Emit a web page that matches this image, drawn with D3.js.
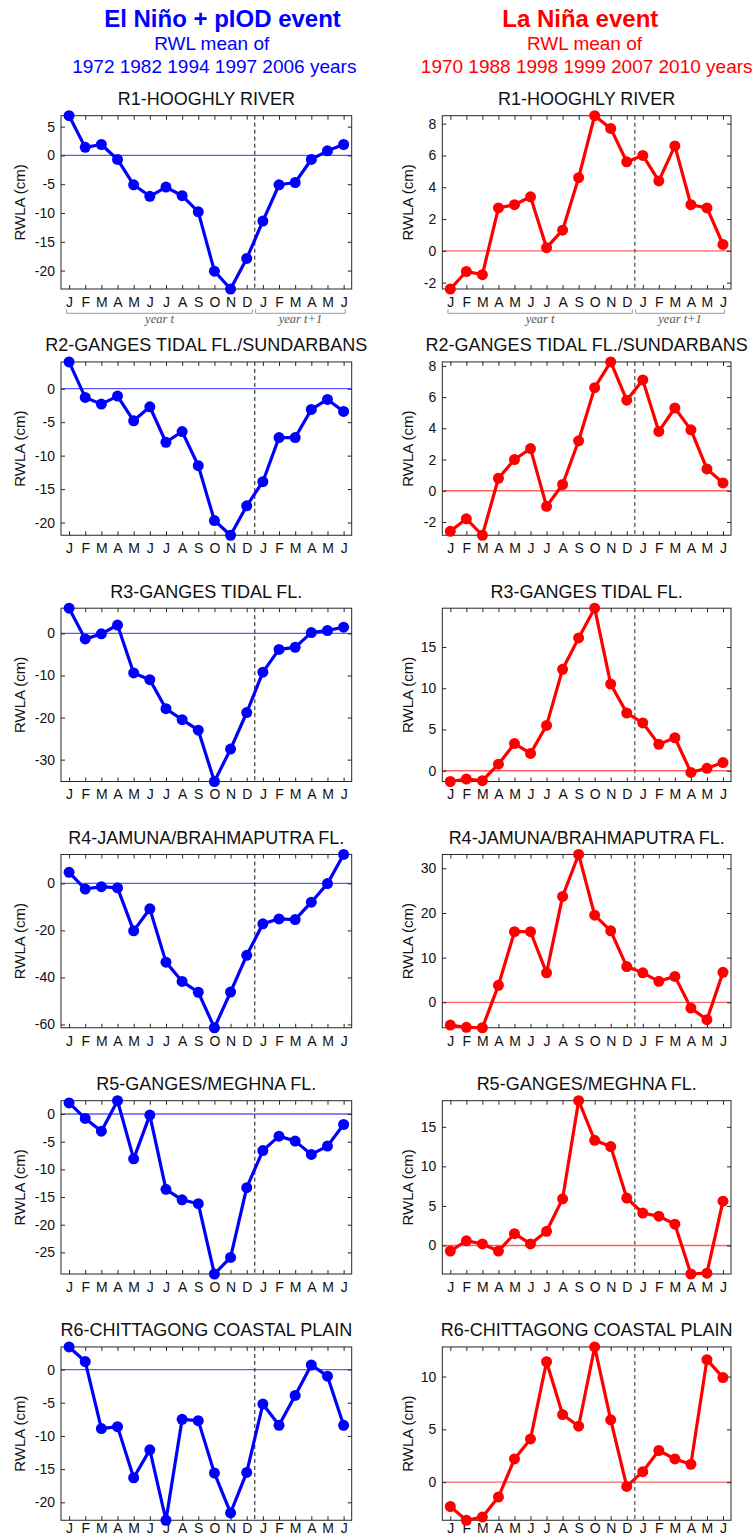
<!DOCTYPE html>
<html>
<head>
<meta charset="utf-8">
<script src="https://cdn.jsdelivr.net/npm/d3@7"></script>
<style>
  body { margin: 0; background: #fff; }
  svg { display: block; font-family: "Liberation Sans", Arial, sans-serif; }
</style>
</head>
<body>
<script>
// Month sequence: January of year t through June of year t+1
const months = ["J","F","M","A","M","J","J","A","S","O","N","D","J","F","M","A","M","J"];
const regions = [
  "R1-HOOGHLY RIVER",
  "R2-GANGES TIDAL FL./SUNDARBANS",
  "R3-GANGES TIDAL FL.",
  "R4-JAMUNA/BRAHMAPUTRA FL.",
  "R5-GANGES/MEGHNA FL.",
  "R6-CHITTAGONG COASTAL PLAIN"
];
const elNinoTitle = "El Niño + pIOD event";
const laNinaTitle = "La Niña event";
const subtitleLead = "RWL mean of";
const elNinoYears = "1972 1982 1994 1997 2006 years";
const laNinaYears = "1970 1988 1998 1999 2007 2010 years";
const yearLabels = ["year t", "year t+1"];
const yLabel = "RWLA (cm)";

// River water level anomalies (cm), El Niño + pIOD composite
const elNinoR1 = [6.9, 1.4, 1.9, -0.7, -5.1, -7.1, -5.5, -7.0, -9.8, -20.1, -23.2, -17.9, -11.4, -5.1, -4.7, -0.7, 0.8, 1.9];
const elNinoR2 = [4.0, -1.3, -2.3, -1.1, -4.8, -2.7, -8.0, -6.4, -11.5, -19.7, -21.9, -17.5, -13.9, -7.3, -7.3, -3.1, -1.6, -3.4];
const elNinoR3 = [6.0, -1.3, -0.1, 2.0, -9.4, -11.0, -17.9, -20.5, -23.0, -35.2, -27.5, -18.8, -9.2, -3.8, -3.3, 0.2, 0.7, 1.5];
const elNinoR4 = [4.7, -2.4, -1.4, -1.9, -20.2, -10.8, -33.5, -41.7, -46.3, -61.4, -46.2, -30.6, -17.2, -15.1, -15.4, -8.0, -0.1, 12.3];
const elNinoR5 = [2.0, -0.8, -3.1, 2.4, -8.1, -0.2, -13.6, -15.5, -16.2, -28.9, -25.9, -13.3, -6.6, -4.0, -4.9, -7.3, -5.8, -1.9];
const elNinoR6 = [3.4, 1.2, -8.9, -8.6, -16.3, -12.1, -22.7, -7.5, -7.7, -15.6, -21.6, -15.5, -5.2, -8.4, -3.9, 0.7, -1.0, -8.4];

// River water level anomalies (cm), La Niña composite
const laNinaR1 = [-2.4, -1.3, -1.5, 2.7, 2.9, 3.4, 0.2, 1.3, 4.6, 8.5, 7.7, 5.6, 6.0, 4.4, 6.6, 2.9, 2.7, 0.4];
const laNinaR2 = [-2.6, -1.8, -2.85, 0.8, 2.0, 2.7, -1.0, 0.4, 3.2, 6.6, 8.25, 5.8, 7.1, 3.8, 5.3, 3.9, 1.4, 0.5];
const laNinaR3 = [-1.3, -1.0, -1.2, 0.8, 3.3, 2.1, 5.5, 12.3, 16.1, 19.7, 10.5, 7.0, 5.8, 3.2, 4.0, -0.2, 0.3, 1.0];
const laNinaR4 = [-5.1, -5.6, -5.7, 3.8, 15.8, 15.8, 6.6, 23.7, 33.1, 19.5, 16.0, 8.0, 6.6, 4.7, 5.8, -1.3, -3.9, 6.7];
const laNinaR5 = [-0.7, 0.6, 0.2, -0.7, 1.5, 0.2, 1.8, 5.9, 18.3, 13.3, 12.5, 6.0, 4.1, 3.7, 2.7, -3.6, -3.5, 5.6];
const laNinaR6 = [-2.3, -3.6, -3.3, -1.4, 2.2, 4.1, 11.4, 6.4, 5.3, 12.8, 5.9, -0.4, 1.0, 3.0, 2.2, 1.7, 11.6, 9.9];

// Y tick values for each region
const elNinoTicks = [
  [-20, -15, -10, -5, 0, 5],
  [-20, -15, -10, -5, 0],
  [-30, -20, -10, 0],
  [-60, -40, -20, 0],
  [-25, -20, -15, -10, -5, 0],
  [-20, -15, -10, -5, 0]
];
const laNinaTicks = [
  [-2, 0, 2, 4, 6, 8],
  [-2, 0, 2, 4, 6, 8],
  [0, 5, 10, 15],
  [0, 10, 20, 30],
  [0, 5, 10, 15],
  [0, 5, 10]
];

const elNinoSeries = [elNinoR1, elNinoR2, elNinoR3, elNinoR4, elNinoR5, elNinoR6];
const laNinaSeries = [laNinaR1, laNinaR2, laNinaR3, laNinaR4, laNinaR5, laNinaR6];

// ---- layout ----
const W = 754, H = 1539;
const panelTop0 = 115.7, panelStep = 246.25, panelH = 173.3;
const columns = [
  { x0: 61, x1: 351.7, series: elNinoSeries, ticks: elNinoTicks,
    color: "#0000ff", zero: "#5a5aff", dash: "#111", dashW: 1,
    ylabX: 20 },
  { x0: 442.3, x1: 731, series: laNinaSeries, ticks: laNinaTicks,
    color: "#ff0000", zero: "#ff6060", dash: "#666", dashW: 1.4,
    ylabX: 408 }
];
const axisColor = "#262626";

const svg = d3.select("body").append("svg")
  .attr("width", W).attr("height", H)
  .attr("viewBox", `0 0 ${W} ${H}`);

// ---- column headers ----
function header(cx1, cx2, cx3, title, years, color) {
  svg.append("text").attr("x", cx1).attr("y", 26.7)
    .attr("text-anchor", "middle").attr("font-size", 24).attr("font-weight", "bold")
    .attr("fill", color).text(title);
  svg.append("text").attr("x", cx2).attr("y", 50)
    .attr("text-anchor", "middle").attr("font-size", 19)
    .attr("fill", color).text(subtitleLead);
  svg.append("text").attr("x", cx3).attr("y", 73.3)
    .attr("text-anchor", "middle").attr("font-size", 19)
    .attr("fill", color).text(years);
}
header(222.5, 211.7, 214.3, elNinoTitle, elNinoYears, "#0000ff");
header(580.3, 584.5, 586.7, laNinaTitle, laNinaYears, "#ff0000");

// ---- panels ----
columns.forEach(col => {
  col.series.forEach((values, i) => {
    const top = panelTop0 + panelStep * i;
    const bottom = top + panelH;
    const g = svg.append("g");

    const x = d3.scaleLinear().domain([-0.5, months.length - 0.5]).range([col.x0, col.x1]);
    const y = d3.scaleLinear().domain(d3.extent(values)).range([bottom, top]);

    // panel title
    g.append("text")
      .attr("x", (col.x0 + col.x1) / 2).attr("y", top - 10.5)
      .attr("text-anchor", "middle").attr("font-size", 18).attr("fill", "#111")
      .text(regions[i]);

    // zero reference line
    g.append("line")
      .attr("x1", col.x0).attr("x2", col.x1)
      .attr("y1", y(0)).attr("y2", y(0))
      .attr("stroke", col.zero).attr("stroke-width", 1.3);

    // year boundary between December and January
    g.append("line")
      .attr("x1", x(11.5)).attr("x2", x(11.5))
      .attr("y1", top).attr("y2", bottom)
      .attr("stroke", col.dash).attr("stroke-width", col.dashW)
      .attr("stroke-dasharray", "4,3");

    // axes with inward ticks on all four sides
    const styleAxis = sel => {
      sel.select(".domain").remove();
      sel.selectAll(".tick line").attr("stroke", axisColor);
      sel.selectAll(".tick text").attr("fill", "#111").attr("font-size", 14)
        .attr("font-family", "Liberation Sans, Arial, sans-serif");
    };
    // keep the month letters of the lowest row inside the page
    const monthPad = Math.min(8, H - bottom - 16);
    g.append("g").attr("transform", `translate(0,${bottom})`)
      .call(d3.axisBottom(x).tickValues(d3.range(months.length))
        .tickFormat(d => months[d]).tickSize(-4).tickPadding(monthPad))
      .call(styleAxis);
    g.append("g").attr("transform", `translate(0,${top})`)
      .call(d3.axisTop(x).tickValues(d3.range(months.length))
        .tickFormat("").tickSize(-4))
      .call(styleAxis);
    g.append("g").attr("transform", `translate(${col.x0},0)`)
      .call(d3.axisLeft(y).tickValues(col.ticks[i]).tickSize(-4).tickPadding(6)
        .tickFormat(d3.format("d")))
      .call(styleAxis);
    g.append("g").attr("transform", `translate(${col.x1},0)`)
      .call(d3.axisRight(y).tickValues(col.ticks[i]).tickFormat("").tickSize(-4))
      .call(styleAxis);
    g.selectAll(".tick text").text(function () {
      return this.textContent.replace("−", "-");
    });

    // box
    g.append("rect")
      .attr("x", col.x0).attr("y", top)
      .attr("width", col.x1 - col.x0).attr("height", panelH)
      .attr("fill", "none").attr("stroke", axisColor).attr("stroke-width", 1);

    // y label
    g.append("text")
      .attr("transform", `translate(${col.ylabX},${(top + bottom) / 2}) rotate(-90)`)
      .attr("text-anchor", "middle").attr("dy", "0.35em")
      .attr("font-size", 15).attr("fill", "#111").text(yLabel);

    // series line and markers
    g.append("path").datum(values)
      .attr("d", d3.line().x((d, k) => x(k)).y(d => y(d)))
      .attr("fill", "none").attr("stroke", col.color)
      .attr("stroke-width", 3.2).attr("stroke-linejoin", "round");
    g.selectAll("circle.pt").data(values).join("circle")
      .attr("class", "pt")
      .attr("cx", (d, k) => x(k)).attr("cy", d => y(d)).attr("r", 5.5)
      .attr("fill", col.color);

    // year t / year t+1 brackets below the first panel
    if (i === 0) {
      const by = bottom + 24.3;
      const spans = [[-0.15, 11.35], [11.55, 17.1]];
      spans.forEach((s, k) => {
        const a = x(s[0]), b = x(s[1]);
        g.append("path")
          .attr("d", `M${a},${by - 4}V${by}H${b}V${by - 4}`)
          .attr("fill", "none").attr("stroke", "#9a9a9a").attr("stroke-width", 1);
        g.append("text")
          .attr("x", (a + b) / 2).attr("y", by + 9.5)
          .attr("text-anchor", "middle")
          .attr("font-family", "Liberation Serif, Times New Roman, serif")
          .attr("font-style", "italic").attr("font-size", 12.5).attr("fill", "#555")
          .text(yearLabels[k]);
      });
    }
  });
});
</script>
</body>
</html>
